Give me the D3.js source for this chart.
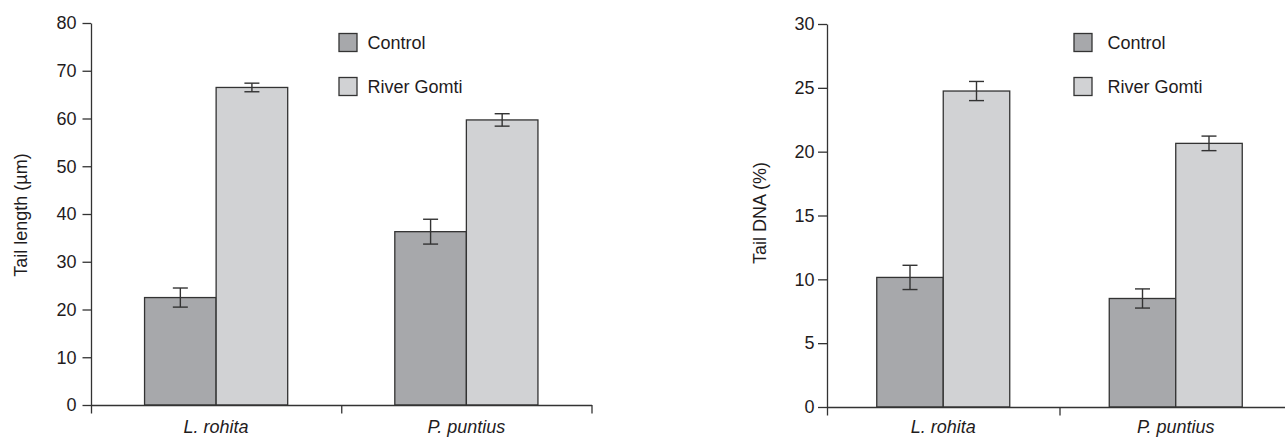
<!DOCTYPE html>
<html>
<head>
<meta charset="utf-8">
<script src="https://cdn.jsdelivr.net/npm/d3@7"></script>
<style>
  html, body { margin: 0; padding: 0; background: #fff; }
  svg { display: block; font-family: "Liberation Sans", Arial, Helvetica, sans-serif; }
</style>
</head>
<body>
<svg id="chart" width="1285" height="437"></svg>
<script>
// ---- data ----
const categories = ["L. rohita", "P. puntius"];
const seriesNames = ["Control", "River Gomti"];

const tailLengthControl = [22.5, 36.3];
const tailLengthControlErr = [2.0, 2.6];
const tailLengthRiver = [66.5, 59.7];
const tailLengthRiverErr = [0.9, 1.3];

const tailDNAControl = [10.15, 8.5];
const tailDNAControlErr = [0.95, 0.75];
const tailDNARiver = [24.75, 20.65];
const tailDNARiverErr = [0.75, 0.57];

const tailLengthTicks = [0, 10, 20, 30, 40, 50, 60, 70, 80];
const tailDNATicks = [0, 5, 10, 15, 20, 25, 30];

const yTitleLeft = "Tail length (µm)";
const yTitleRight = "Tail DNA (%)";

// ---- styles ----
const colors = { "Control": "#a7a8ab", "River Gomti": "#d1d2d4" };
const ink = "#333333";
const textColor = "#1f1c1d";

const svg = d3.select("#chart");

function panel(cfg) {
  const g = svg.append("g");
  const y = d3.scaleLinear().domain([0, d3.max(cfg.ticks)]).range([cfg.y0, cfg.yTop]);
  const x0 = d3.scaleBand().domain(categories).range([cfg.xLeft, cfg.xRight]).paddingInner(0).paddingOuter(0);
  const bw = x0.bandwidth();
  const groupFrac = 0.572;
  const x1 = d3.scaleBand().domain(seriesNames)
    .range([bw * (1 - groupFrac) / 2, bw * (1 + groupFrac) / 2]).padding(0);

  const rows = categories.map((c, i) => ({
    cat: c,
    vals: [
      { s: "Control", v: cfg.control[i], e: cfg.controlErr[i] },
      { s: "River Gomti", v: cfg.river[i], e: cfg.riverErr[i] }
    ]
  }));

  // bars
  const grp = g.selectAll("g.cat").data(rows).join("g")
    .attr("transform", d => `translate(${x0(d.cat)},0)`);
  grp.selectAll("rect").data(d => d.vals).join("rect")
    .attr("x", d => x1(d.s))
    .attr("y", d => y(d.v))
    .attr("width", x1.bandwidth())
    .attr("height", d => y(0) - y(d.v))
    .attr("fill", d => colors[d.s])
    .attr("stroke", ink)
    .attr("stroke-width", 1.3);

  // error bars
  const capW = 15;
  const eb = grp.selectAll("g.err").data(d => d.vals).join("g")
    .attr("stroke", ink).attr("stroke-width", 1.4)
    .attr("transform", d => `translate(${x1(d.s) + x1.bandwidth() / 2},0)`);
  eb.append("line").attr("x1", 0).attr("x2", 0)
    .attr("y1", d => y(d.v + d.e)).attr("y2", d => y(d.v - d.e));
  eb.append("line").attr("x1", -capW / 2).attr("x2", capW / 2)
    .attr("y1", d => y(d.v + d.e)).attr("y2", d => y(d.v + d.e));
  eb.append("line").attr("x1", -capW / 2).attr("x2", capW / 2)
    .attr("y1", d => y(d.v - d.e)).attr("y2", d => y(d.v - d.e));

  // y axis
  const ya = g.append("g").attr("transform", `translate(${cfg.xLeft},0)`)
    .call(d3.axisLeft(y).tickValues(cfg.ticks).tickSize(cfg.tickLen).tickSizeOuter(0).tickPadding(cfg.tickPad));
  ya.select(".domain").attr("stroke", ink).attr("stroke-width", 1.3);
  ya.selectAll(".tick line").attr("stroke", ink).attr("stroke-width", 1.3);
  ya.selectAll(".tick text").attr("fill", textColor).style("font-size", "18px")
    .style("font-family", "'Liberation Sans', Arial, sans-serif");

  // x axis: line with ticks at group boundaries
  const xb = d3.scaleLinear().domain([0, categories.length]).range([cfg.xLeft, cfg.xRight]);
  const xa = g.append("g").attr("transform", `translate(0,${cfg.y0})`)
    .call(d3.axisBottom(xb).tickValues(d3.range(categories.length + 1))
      .tickFormat("").tickSize(8.5).tickSizeOuter(0));
  xa.select(".domain").attr("stroke", ink).attr("stroke-width", 1.3);
  xa.selectAll(".tick line").attr("stroke", ink).attr("stroke-width", 1.3);

  // category labels
  g.selectAll("text.cat").data(categories).join("text")
    .attr("class", "cat")
    .attr("x", d => x0(d) + bw / 2)
    .attr("y", 432.5)
    .attr("text-anchor", "middle")
    .attr("font-style", "italic")
    .attr("font-size", 18)
    .attr("fill", textColor)
    .text(d => d);

  // y title
  g.append("text")
    .attr("transform", `translate(${cfg.titleX},${cfg.titleY}) rotate(-90)`)
    .attr("text-anchor", "middle")
    .attr("font-size", 18)
    .attr("fill", textColor)
    .text(cfg.title);

  // legend
  const lg = g.append("g").attr("transform", `translate(${cfg.legX},${cfg.legY})`);
  const li = lg.selectAll("g").data(seriesNames).join("g")
    .attr("transform", (d, i) => `translate(0,${i * 44})`);
  li.append("rect").attr("x", 0).attr("y", 0).attr("width", 18).attr("height", 18)
    .attr("fill", d => colors[d]).attr("stroke", ink).attr("stroke-width", 1.3);
  li.append("text").attr("x", cfg.legTextDx).attr("y", 15)
    .attr("font-size", 18).attr("fill", textColor).text(d => d);
}

panel({
  xLeft: 91, xRight: 591.5, y0: 405, yTop: 23,
  ticks: tailLengthTicks,
  control: tailLengthControl, controlErr: tailLengthControlErr,
  river: tailLengthRiver, riverErr: tailLengthRiverErr,
  tickLen: 8.5, tickPad: 6,
  title: yTitleLeft, titleX: 27, titleY: 215,
  legX: 339, legY: 33.5, legTextDx: 28.5
});

panel({
  xLeft: 827, xRight: 1292, y0: 407, yTop: 24,
  ticks: tailDNATicks,
  control: tailDNAControl, controlErr: tailDNAControlErr,
  river: tailDNARiver, riverErr: tailDNARiverErr,
  tickLen: 9, tickPad: 3.5,
  title: yTitleRight, titleX: 766, titleY: 213,
  legX: 1074, legY: 33.5, legTextDx: 33.5
});
</script>
</body>
</html>
